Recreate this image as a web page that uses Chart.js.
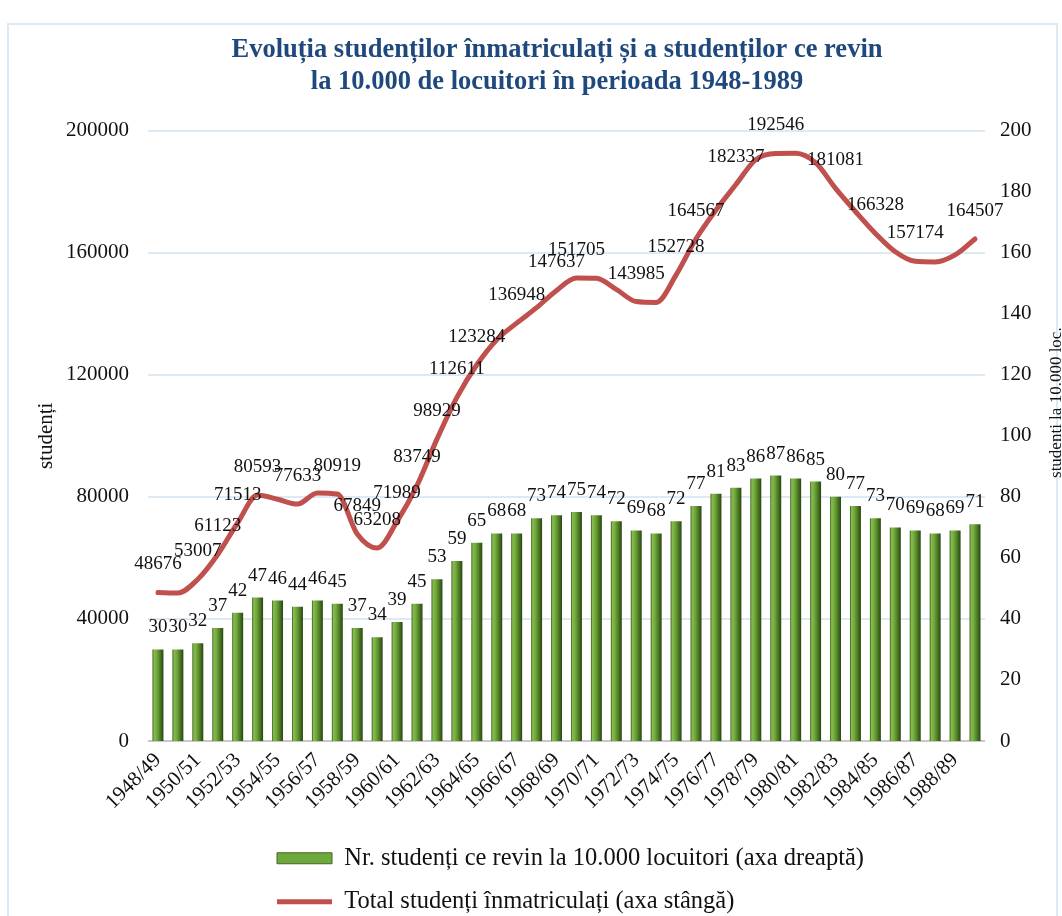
<!DOCTYPE html>
<html><head><meta charset="utf-8">
<script src="https://cdn.jsdelivr.net/npm/chart.js@4/dist/chart.umd.min.js"></script>
<style>
html,body{margin:0;padding:0;background:#fff;}
#wrap{position:relative;width:1062px;height:916px;overflow:hidden;background:#fff;}
#frame{position:absolute;left:7px;top:23px;width:1051px;height:1000px;border:2px solid #dde9f3;box-sizing:border-box;}
canvas{position:absolute;left:0;top:0;}
</style></head><body>
<div id="wrap"><div id="frame"></div><canvas id="c" width="1080" height="916"></canvas></div>
<script>
const categories = ['1948/49','1949/50','1950/51','1951/52','1952/53','1953/54','1954/55','1955/56','1956/57','1957/58',
  '1958/59','1959/60','1960/61','1961/62','1962/63','1963/64','1964/65','1965/66','1966/67','1967/68',
  '1968/69','1969/70','1970/71','1971/72','1972/73','1973/74','1974/75','1975/76','1976/77','1977/78',
  '1978/79','1979/80','1980/81','1981/82','1982/83','1983/84','1984/85','1985/86','1986/87','1987/88',
  '1988/89','1989/90'];
const studentsPer10k = [30,30,32,37,42,47,46,44,46,45,37,34,39,45,53,59,65,68,68,73,74,75,74,72,69,68,72,77,81,83,86,87,86,85,80,77,73,70,69,68,69,71];
const totalStudents = [48676,48500,53007,61123,71513,80593,79200,77633,81300,80919,67849,63208,71989,83749,98929,112611,123284,131500,136948,142000,
  147637,151705,151600,148000,143985,143700,152728,164567,174000,182337,190500,192546,192600,189500,181081,173500,166328,160300,157174,157000,159300,164507];
const labeledLinePoints = [0,2,3,4,5,7,9,10,11,12,13,14,15,16,18,20,21,24,26,27,29,31,34,36,38,41];
const leftTicks = [0,40000,80000,120000,160000,200000];
const rightTicks = [0,20,40,60,80,100,120,140,160,180,200];
const titleLines = ['Evoluția studenților înmatriculați și a studenților ce revin','la 10.000 de locuitori în perioada 1948-1989'];
const seriesNames = ['Nr. studenți ce revin la 10.000 locuitori (axa dreaptă)','Total studenți înmatriculați (axa stângă)'];
const leftAxisTitle = 'studenți';
const rightAxisTitle = 'studenti la 10.000 loc.';

const SERIF = '"Liberation Serif", "Times New Roman", serif';
const BAR_PCT = 0.55;

function barFill(context){
  const chart = context.chart;
  const xs = chart.scales && chart.scales.x;
  if (!xs || context.type !== 'data' || !xs.width) return '#6aa33a';
  const x = xs.getPixelForValue(context.dataIndex);
  const w = xs.width / categories.length * BAR_PCT;
  const g = chart.ctx.createLinearGradient(x - w/2, 0, x + w/2, 0);
  g.addColorStop(0, '#33561a');
  g.addColorStop(0.14, '#86bd4d');
  g.addColorStop(0.38, '#74aa3e');
  g.addColorStop(0.68, '#4e7e25');
  g.addColorStop(1, '#2a4512');
  return g;
}

const valueLabels = {
  id: 'valueLabels',
  afterDatasetsDraw(chart){
    const ctx = chart.ctx;
    ctx.save();
    ctx.font = '19px ' + SERIF;
    ctx.fillStyle = '#111';
    ctx.textAlign = 'center';
    ctx.textBaseline = 'alphabetic';
    const bm = chart.getDatasetMeta(0);
    bm.data.forEach((el, i) => ctx.fillText(String(studentsPer10k[i]), el.x, el.y - 17));
    const lm = chart.getDatasetMeta(1);
    labeledLinePoints.forEach(i => { const el = lm.data[i]; ctx.fillText(String(totalStudents[i]), el.x, el.y - 23); });
    // right axis title (reads bottom-to-top)
    const ys = chart.scales.y1;
    ctx.font = '17px ' + SERIF;
    ctx.textBaseline = 'alphabetic';
    ctx.translate(ys.right - 19, ys.top + 272);
    ctx.rotate(-Math.PI / 2);
    ctx.fillText(rightAxisTitle, 0, 0);
    ctx.restore();
  }
};

const legendShift = {
  id: 'legendShift',
  afterLayout(chart){
    const lg = chart.legend;
    if (!lg) return;
    const dx = 277 - (lg.left + lg.options.labels.padding);
    lg.left += dx; lg.right += dx;
  }
};

const tickFont = {family: SERIF, size: 21};

new Chart(document.getElementById('c'), {
  data: {
    labels: categories,
    datasets: [
      {type: 'bar', label: seriesNames[0], data: studentsPer10k, yAxisID: 'y1',
       backgroundColor: barFill, borderWidth: 0, barPercentage: BAR_PCT, categoryPercentage: 1.0},
      {type: 'line', label: seriesNames[1], data: totalStudents, yAxisID: 'y',
       borderColor: '#c0504d', borderWidth: 5, pointRadius: 0, cubicInterpolationMode: 'monotone', fill: false,
       borderCapStyle: 'round', borderJoinStyle: 'round'}
    ]
  },
  options: {
    responsive: false,
    animation: false,
    layout: {padding: {left: 34, right: 0, top: 0, bottom: -8}},
    plugins: {
      title: {display: true, text: titleLines, color: '#1f497d',
              font: {family: SERIF, size: 26.5, weight: 'bold', lineHeight: 1.22},
              padding: {top: 34, bottom: 32}},
      legend: {position: 'bottom', align: 'start', fullSize: false,
        labels: {
          font: {family: SERIF, size: 24.5}, color: '#111',
          usePointStyle: true, pointStyleWidth: 55, boxHeight: 11, padding: 19,
          generateLabels(chart){
            return [
              {text: seriesNames[0], fillStyle: '#6fa83c', strokeStyle: '#3f6a1f', lineWidth: 1, pointStyle: 'rect', datasetIndex: 0, hidden: false, fontColor: '#111'},
              {text: seriesNames[1], fillStyle: '#c0504d', strokeStyle: '#c0504d', lineWidth: 5, pointStyle: 'line', datasetIndex: 1, hidden: false, fontColor: '#111'}
            ];
          }
        }
      },
      tooltip: {enabled: false}
    },
    scales: {
      x: {
        grid: {display: false, drawTicks: false}, border: {display: false},
        ticks: {autoSkip: false, minRotation: 45, maxRotation: 45, font: tickFont, color: '#111', padding: 7,
                callback: (v, i) => (i % 2 === 0 ? categories[i] : '')},
        afterFit(s){ s.height = 86; }
      },
      y: {
        position: 'left', min: 0, max: 200000,
        afterBuildTicks(s){ s.ticks = leftTicks.map(v => ({value: v})); },
        ticks: {font: tickFont, color: '#111', padding: 19, callback: v => String(v)},
        grid: {drawTicks: false, lineWidth: 2, color: c => (c.tick && c.tick.value === 0 ? '#c8c8c8' : '#dde9f3')},
        border: {display: false},
        title: {display: true, text: leftAxisTitle, font: {family: SERIF, size: 21}, color: '#111', padding: {top: 0, bottom: 0}},
        afterFit(s){ s.width = 114; }
      },
      y1: {
        position: 'right', min: 0, max: 200,
        afterBuildTicks(s){ s.ticks = rightTicks.map(v => ({value: v})); },
        ticks: {font: tickFont, color: '#111', padding: 15, callback: v => String(v)},
        grid: {display: false, drawTicks: false},
        border: {display: false},
        afterFit(s){ s.width = 95; }
      }
    }
  },
  plugins: [valueLabels, legendShift]
});
</script>
</body></html>
